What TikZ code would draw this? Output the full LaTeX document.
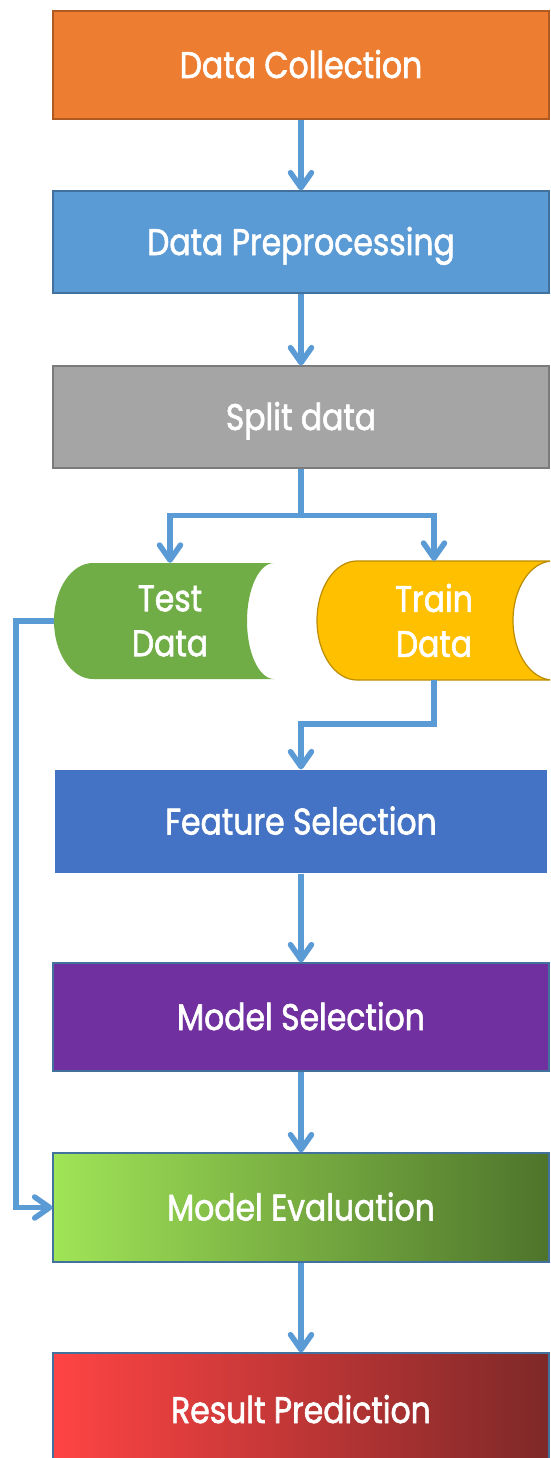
\documentclass[tikz,border=0pt]{standalone}
\usepackage{fontspec}
\setmainfont{Poppins}
\newfontfamily\flowfont{Poppins}[FakeBold=1.6,FakeStretch=0.85]
\usetikzlibrary{arrows.meta}

\definecolor{linkblue}{HTML}{5B9BD5}
\definecolor{collectfill}{HTML}{ED7D31}
\definecolor{collectline}{HTML}{AE5A21}
\definecolor{prepfill}{HTML}{5B9BD5}
\definecolor{prepline}{HTML}{41719C}
\definecolor{splitfill}{HTML}{A5A5A5}
\definecolor{splitline}{HTML}{7B7B7B}
\definecolor{testfill}{HTML}{70AD47}
\definecolor{trainfill}{HTML}{FFC000}
\definecolor{trainline}{HTML}{BC8C00}
\definecolor{featfill}{HTML}{4472C4}
\definecolor{modelfill}{HTML}{7030A0}
\definecolor{evalA}{HTML}{A0E457}
\definecolor{evalB}{HTML}{88C44B}
\definecolor{evalC}{HTML}{4E742B}
\definecolor{resA}{HTML}{FF4444}
\definecolor{resB}{HTML}{DC3D3D}
\definecolor{resC}{HTML}{7E2828}

\begin{document}
\begin{tikzpicture}[x=1pt,y=-1pt,
  label/.style={text=white,font=\flowfont\fontsize{37}{45}\selectfont},
  stage/.style={label,rectangle,minimum width=496pt,inner sep=0pt,
                text height=26pt,text depth=0pt,line width=1.2pt},
  drum/.style={label,rectangle,inner sep=0pt,align=center},
  flow/.style={draw=linkblue,line width=5.5pt,
               -{Straight Barb[length=15pt,width=21pt,round]}},
  link/.style={draw=linkblue,line width=5.5pt}
]
\useasboundingbox (0,0) rectangle (550,1458);
\clip (0,0) rectangle (550,1458);

% main stages
\node[stage,fill=collectfill,draw=collectline,minimum height=108pt] (collect) at (301,65) {Data Collection};
\node[stage,fill=prepfill,draw=prepline,minimum height=102pt] (prep) at (301,242) {Data Preprocessing};
\node[stage,fill=splitfill,draw=splitline,minimum height=102pt] (split) at (301,417) {Split data};

% storage drums
\fill[testfill] (274,563) -- (93,563) arc[start angle=90,end angle=270,x radius=39pt,y radius=58pt]
  -- (274,679) arc[start angle=270,end angle=90,x radius=27pt,y radius=58pt] -- cycle;
\filldraw[fill=trainfill,draw=trainline,line width=1.2pt]
  (553,561) -- (357,561) arc[start angle=90,end angle=270,x radius=40pt,y radius=59.5pt]
  -- (553,680) arc[start angle=270,end angle=90,x radius=40pt,y radius=59.5pt] -- cycle;
\node[drum,minimum width=232pt,minimum height=116pt] (test) at (170,621) {Test\\Data};
\node[drum,minimum width=234pt,minimum height=119pt] (train) at (434,620.5) {Train\\Data};

\node[stage,fill=featfill,minimum width=492pt,minimum height=103pt] (feat) at (301,821.5) {Feature Selection};
\node[stage,fill=modelfill,draw=prepline,minimum height=108pt] (model) at (301,1017) {Model Selection};
\node[stage,left color=evalA,middle color=evalB,right color=evalC,draw=prepline,minimum height=109pt] (eval) at (301,1207.5) {Model Evaluation};
\node[stage,left color=resA,middle color=resB,right color=resC,draw=prepline,minimum height=114pt] (result) at (301,1410) {Result Prediction};

% connectors
\draw[flow] (collect) -- (prep);
\draw[flow] (prep) -- (split);
\draw[link] (split.south) -- ++(0,47) coordinate (fork);
\draw[flow] (fork) -| (test.north);
\draw[flow] (fork) -| (train.north);
\draw[flow] (train.south) -- ++(0,44) -| (feat.north);
\draw[flow] (feat) -- (model);
\draw[flow] (model) -- (eval);
\draw[flow] (test.west) -- ++(-38,0) |- (eval.west);
\draw[flow] (eval) -- (result);
\end{tikzpicture}
\end{document}
